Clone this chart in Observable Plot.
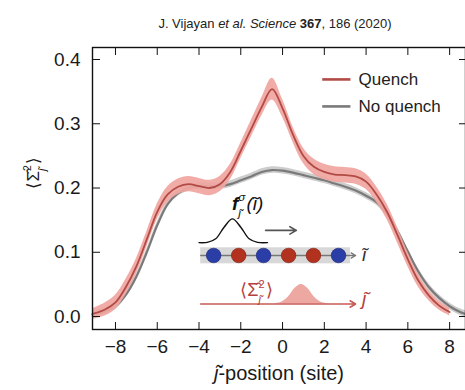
<!DOCTYPE html>
<html><head><meta charset="utf-8">
<script src="https://cdn.jsdelivr.net/npm/d3@7"></script>
<script src="https://cdn.jsdelivr.net/npm/@observablehq/plot@0.6"></script>
<style>
body{margin:0;background:#fff;font-family:"Liberation Sans",Arial,sans-serif}
</style>
</head><body><div id="chart"></div>
<script>
// ---- data ----
const quenchX   = [-9.1,-8.5,-8.0,-7.5,-7.0,-6.5,-6.0,-5.5,-5.0,-4.5,-4.0,-3.5,-3.0,-2.5,-2.0,-1.5,-1.0,-0.5,0.0,0.5,1.0,1.5,2.0,2.5,3.0,3.5,4.0,4.5,5.0,5.5,6.0,6.5,7.0,7.5,8.0];
const quenchY   = [0.004,0.011,0.022,0.046,0.078,0.120,0.163,0.190,0.202,0.206,0.203,0.200,0.206,0.225,0.258,0.292,0.326,0.354,0.324,0.283,0.250,0.233,0.225,0.221,0.220,0.218,0.210,0.190,0.163,0.127,0.089,0.056,0.033,0.017,0.007];
const quenchErr = [0.008,0.010,0.011,0.012,0.012,0.012,0.012,0.012,0.012,0.012,0.012,0.012,0.012,0.012,0.012,0.013,0.014,0.017,0.014,0.012,0.012,0.012,0.012,0.012,0.012,0.012,0.012,0.012,0.012,0.012,0.011,0.010,0.008,0.007,0.006];

const noQuenchX   = [-9.1,-8.5,-8.0,-7.5,-7.0,-6.5,-6.0,-5.5,-5.0,-4.5,-4.0,-3.5,-3.0,-2.5,-2.0,-1.5,-1.0,-0.5,0.0,0.5,1.0,1.5,2.0,2.5,3.0,3.5,4.0,4.5,5.0,5.5,6.0,6.5,7.0,7.5,8.0,8.5,8.76];
const noQuenchY   = [0.003,0.008,0.016,0.034,0.062,0.100,0.142,0.175,0.192,0.200,0.203,0.203,0.203,0.206,0.212,0.218,0.225,0.228,0.227,0.224,0.220,0.216,0.212,0.207,0.202,0.196,0.188,0.178,0.160,0.133,0.101,0.070,0.046,0.029,0.016,0.007,0.004];
const noQuenchErr = 0.005;

const seriesNames = ["Quench", "No quench"];
const xTicks = [-8,-6,-4,-2,0,2,4,6,8];
const yTicks = [0,0.1,0.2,0.3,0.4];
const titleText = "J. Vijayan et al. Science 367, 186 (2020)";
const xLabel = "ȷ̃-position (site)";
const yLabel = "⟨Σ̂2ȷ̃⟩";
const sigLabel = "⟨Σ̂2ȷ̃⟩ ";
const fLabel = "fσȷ̃(ĩ)";

// inset schematic (in axis units)
const gaussX = [-4.0,-3.6,-3.2,-2.8,-2.4,-2.0,-1.6,-1.2,-0.72];
const gaussY = [0.115,0.1155,0.121,0.139,0.152,0.139,0.121,0.1155,0.115];
const siteX = [-3.3,-2.1,-0.91,0.29,1.48,2.68];
const siteSpin = ["b","r","b","r","r","b"];
const peakX = [-0.4,0.0,0.3,0.6,0.9,1.2,1.5,1.8,2.2];
const peakY = [0.0195,0.023,0.031,0.044,0.050,0.044,0.031,0.023,0.0195];

// ---- tables ----
const q  = quenchX.map((x,i)=>({x, y:quenchY[i], lo:quenchY[i]-quenchErr[i], hi:quenchY[i]+quenchErr[i]}));
const nq = noQuenchX.map((x,i)=>({x, y:noQuenchY[i], lo:noQuenchY[i]-noQuenchErr, hi:noQuenchY[i]+noQuenchErr}));
const gauss = gaussX.map((x,i)=>({x, y:gaussY[i]}));
const sites = siteX.map((x,i)=>({x, s:siteSpin[i]}));
const peak = peakX.map((x,i)=>({x, y:peakY[i]}));
const legend = [{name:seriesNames[0], y:0.369, c:"#b24a45"},{name:seriesNames[1], y:0.327, c:"#7a7a7a"}];

const RED="#b24a45", REDBAND="#f0a59f", GRAY="#7a7a7a", GRAYBAND="#cdcdcd";
const curve = "catmull-rom";

const plot = Plot.plot({
  width: 465, height: 390,
  marginLeft: 92, marginRight: 0, marginTop: 47, marginBottom: 61,
  style: {fontFamily: '"Liberation Sans", Arial, sans-serif', background: "transparent", color: "#1a1a1a", overflow: "visible"},
  x: {domain: [-9.1, 8.76]},
  y: {domain: [-0.0202, 0.4187]},
  marks: [
    Plot.areaY(nq, {x:"x", y1:"lo", y2:"hi", fill:GRAYBAND, curve}),
    Plot.line(nq, {x:"x", y:"y", stroke:GRAY, strokeWidth:2.2, curve}),
    Plot.areaY(q, {x:"x", y1:"lo", y2:"hi", fill:REDBAND, fillOpacity:0.92, curve}),
    Plot.line(q, {x:"x", y:"y", stroke:RED, strokeWidth:1.8, curve}),

    Plot.link(legend, {x1:1.9, x2:3.25, y1:"y", y2:"y", stroke:"c", strokeWidth:2.6}),
    Plot.text(legend, {x:3.64, y:"y", text:"name", textAnchor:"start", fontSize:17, fill:"#222"}),

    Plot.line(gauss, {x:"x", y:"y", stroke:"#111", strokeWidth:1.4, curve}),
    Plot.arrow([0], {x1:-0.81, x2:0.66, y1:0.134, y2:0.134, stroke:"#555", strokeWidth:1.6, headLength:7}),
    Plot.text([fLabel], {x:-2.42, y:0.176, textAnchor:"start", fontSize:19, fill:"#111"}),
    Plot.rect([0], {x1:-3.92, x2:3.25, y1:0.082, y2:0.107, fill:"#d8d8d8"}),
    Plot.arrow([0], {x1:-3.92, x2:3.5, y1:0.095, y2:0.095, stroke:"#777", strokeWidth:1.3, headLength:6}),
    Plot.dot(sites, {x:"x", y:0.095, r:7.3, fill:d=>d.s==="b"?"#2b3da6":"#b3321f", stroke:d=>d.s==="b"?"#1a2470":"#7a1d12", strokeWidth:0.6}),
    Plot.text(["ĩ"], {x:3.8, y:0.096, textAnchor:"start", fontSize:19, fontStyle:"italic", fill:"#333"}),
    Plot.areaY(peak, {x:"x", y1:0.0195, y2:"y", fill:"#eea8a2", curve}),
    Plot.arrow([0], {x1:-3.92, x2:3.5, y1:0.0195, y2:0.0195, stroke:"#c75b56", strokeWidth:1.6, headLength:6}),
    Plot.text([sigLabel], {x:-1.25, y:0.041, fontSize:18, fill:"#b5403c"}),
    Plot.text(["ȷ̃"], {x:3.8, y:0.027, textAnchor:"start", fontSize:19, fontStyle:"italic", fill:"#b5403c"}),

    Plot.frame({stroke:"#111", strokeWidth:1.4}),
    Plot.axisX({ticks:xTicks, tickSize:-7, tickPadding:17, fontSize:19, label:null, stroke:"#111"}),
    Plot.axisX({anchor:"top", ticks:xTicks, tickSize:-7, tickFormat:()=>"", label:null, stroke:"#111"}),
    Plot.axisY({ticks:yTicks, tickSize:-8, tickPadding:20, tickFormat:".1f", fontSize:19, label:null, stroke:"#111"}),
    Plot.axisY({anchor:"right", ticks:yTicks, tickSize:-7, tickFormat:()=>"", label:null, stroke:"#111"}),

    Plot.text([xLabel], {frameAnchor:"bottom", dy:50, fontSize:20, fill:"#1a1a1a"}),
    Plot.text([yLabel], {frameAnchor:"left", dx:-59, rotate:-90, fontSize:17, fill:"#1a1a1a"}),
    Plot.text([titleText], {frameAnchor:"top", dy:-29, dx:-4, fontSize:13, fill:"#222"})
  ]
});
document.getElementById("chart").appendChild(plot);

// ---- rich text (sub/superscripts, italics) applied to the text that Plot drew ----
const NS = "http://www.w3.org/2000/svg";
function span(t, p){
  const s = document.createElementNS(NS, "tspan");
  s.textContent = p.t;
  for (const k of ["dx","dy","font-size","font-style","font-weight"]) if (p[k] != null) s.setAttribute(k, p[k]);
  t.appendChild(s);
  return s;
}
function rich(match, parts){
  plot.querySelectorAll("text").forEach(t=>{
    if (t.textContent !== match) return;
    const F = parseFloat(getComputedStyle(t).fontSize) || 16;
    while (t.firstChild) t.removeChild(t.firstChild);
    let carry = 0;
    for (const p of parts) {
      if (p.stack) { // superscript stacked over subscript
        const fs = 0.62*F, up = 0.45*F, down = 0.42*F;
        const a = span(t, {t:p.sup, "font-size":fs, "font-style":p.supItalic?"italic":null, dy:(-up + carry)});
        const wa = a.getComputedTextLength();
        const b = span(t, {t:p.sub, "font-size":fs, "font-style":"italic", dx:-wa, dy:(up+down)});
        const wb = b.getComputedTextLength();
        carry = -down;
        p._extra = Math.max(0, wa - wb) + 1;
        t._extra = p._extra;
      } else {
        const o = Object.assign({}, p);
        if (carry) { o.dy = carry; carry = 0; }
        if (t._extra) { o.dx = t._extra; t._extra = 0; }
        span(t, o);
      }
    }
  });
}
rich(titleText, [{t:"J. Vijayan "},{t:"et al. Science", "font-style":"italic"},{t:" "},{t:"367", "font-weight":"bold"},{t:", 186 (2020)"}]);
rich(xLabel, [{t:"ȷ̃", "font-style":"italic"},{t:"-position (site)"}]);
rich(yLabel, [{t:"⟨Σ̂"},{stack:true, sup:"2", sub:"ȷ̃"},{t:"⟩"}]);
rich(sigLabel, [{t:"⟨Σ̂"},{stack:true, sup:"2", sub:"ȷ̃"},{t:"⟩"}]);
rich(fLabel, [
  {t:"f", "font-weight":"bold", "font-style":"italic"},
  {stack:true, sup:"σ", supItalic:true, sub:"ȷ̃"},
  {t:"(ĩ)", "font-style":"italic"}
]);
</script>
</body></html>
